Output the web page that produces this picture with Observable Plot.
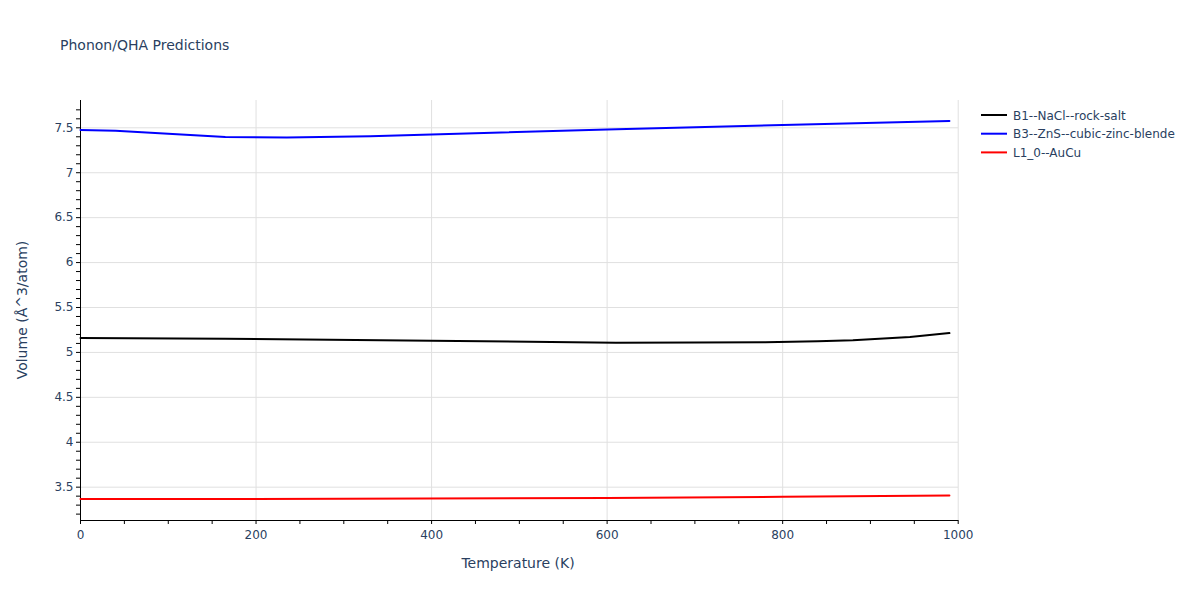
<!DOCTYPE html>
<html>
<head>
<meta charset="utf-8">
<script src="https://cdn.jsdelivr.net/npm/d3@7"></script>
<script src="https://cdn.jsdelivr.net/npm/@observablehq/plot@0.6"></script>
<style>
  body { margin: 0; background: #fff; }
  #chart { position: relative; width: 1200px; height: 600px; }
  svg { font-family: "DejaVu Sans", Verdana, sans-serif; }
</style>
</head>
<body>
<div id="chart"></div>
<script>
const title = "Phonon/QHA Predictions";
const xLabel = "Temperature (K)";
const yLabel = "Volume (Å^3/atom)";

const seriesNames = ["B1--NaCl--rock-salt", "B3--ZnS--cubic-zinc-blende", "L1_0--AuCu"];
const seriesColors = ["#000000", "#0000ff", "#ff0000"];

const tempB1 = [0, 165, 400, 610, 700, 780, 840, 880, 945, 990];
const volB1  = [5.160, 5.153, 5.130, 5.108, 5.109, 5.113, 5.123, 5.135, 5.172, 5.215];

const tempB3 = [0, 40, 165, 235, 330, 600, 800, 990];
const volB3  = [7.475, 7.468, 7.398, 7.392, 7.405, 7.482, 7.530, 7.575];

const tempL10 = [0, 300, 600, 800, 990];
const volL10  = [3.367, 3.370, 3.380, 3.392, 3.407];

const xTicks = [0, 200, 400, 600, 800, 1000];
const yTicks = [3.5, 4, 4.5, 5, 5.5, 6, 6.5, 7, 7.5];
const xDomain = [0, 1000];
const yDomain = [3.129, 7.804];

const rows = [];
[[tempB1, volB1], [tempB3, volB3], [tempL10, volL10]].forEach(([t, v], i) => {
  t.forEach((tt, j) => rows.push({series: seriesNames[i], T: tt, V: v[j]}));
});

const textColor = "#2a3f5f";
const gridColor = "#e0e0e0";
const font = '"DejaVu Sans", Verdana, sans-serif';

const xMinor = d3.range(0, 1001, 50);
const yMinor = d3.range(32, 78).map(d => d / 10);

const plot = Plot.plot({
  width: 1200,
  height: 600,
  marginLeft: 80,
  marginRight: 242,
  marginTop: 100,
  marginBottom: 80,
  style: {fontFamily: font, fontSize: "12px", color: textColor, background: "#fff"},
  x: {domain: xDomain, range: [80, 957.7]},
  y: {domain: yDomain},
  color: {domain: seriesNames, range: seriesColors},
  marks: [
    Plot.gridY(yTicks, {stroke: gridColor, strokeOpacity: 1, strokeWidth: 1}),
    Plot.gridX(xTicks, {stroke: gridColor, strokeOpacity: 1, strokeWidth: 1}),
    Plot.axisX(xMinor, {tickSize: 4, text: null, stroke: "#000", strokeWidth: 1, label: null}),
    Plot.axisY(yMinor.filter(d => d >= yDomain[0] && d <= yDomain[1]), {tickSize: 4, text: null, stroke: "#000", label: null}),
    Plot.axisX(xTicks, {tickSize: 0, tickPadding: 10, fontSize: 12, fill: textColor, label: null, tickFormat: d => String(d)}),
    Plot.axisY(yTicks, {tickSize: 0, tickPadding: 7, fontSize: 12, fill: textColor, label: null, tickFormat: d => String(d)}),
    Plot.ruleY([yDomain[0]], {stroke: "#000", strokeWidth: 1}),
    Plot.ruleX([xDomain[0]], {stroke: "#000", strokeWidth: 1}),
    Plot.line(rows, {x: "T", y: "V", z: "series", stroke: "series", strokeWidth: 2})
  ]
});

document.getElementById("chart").appendChild(plot);

const svg = d3.select(plot);
svg.append("text")
  .attr("x", 60).attr("y", 50)
  .attr("text-anchor", "start")
  .attr("fill", textColor).attr("font-size", 14)
  .text(title);
svg.append("text")
  .attr("x", 518).attr("y", 568)
  .attr("text-anchor", "middle")
  .attr("fill", textColor).attr("font-size", 14)
  .text(xLabel);
svg.append("text")
  .attr("transform", "translate(27,310) rotate(-90)")
  .attr("text-anchor", "middle")
  .attr("fill", textColor).attr("font-size", 14)
  .text(yLabel);

const legend = svg.append("g");
seriesNames.forEach((name, i) => {
  const y = 115 + i * 18.7;
  legend.append("line")
    .attr("x1", 981).attr("x2", 1007).attr("y1", y).attr("y2", y)
    .attr("stroke", seriesColors[i]).attr("stroke-width", 2);
  legend.append("text")
    .attr("x", 1013).attr("y", y + 4.5)
    .attr("text-anchor", "start")
    .attr("fill", textColor).attr("font-size", 12)
    .text(name);
});
</script>
</body>
</html>
